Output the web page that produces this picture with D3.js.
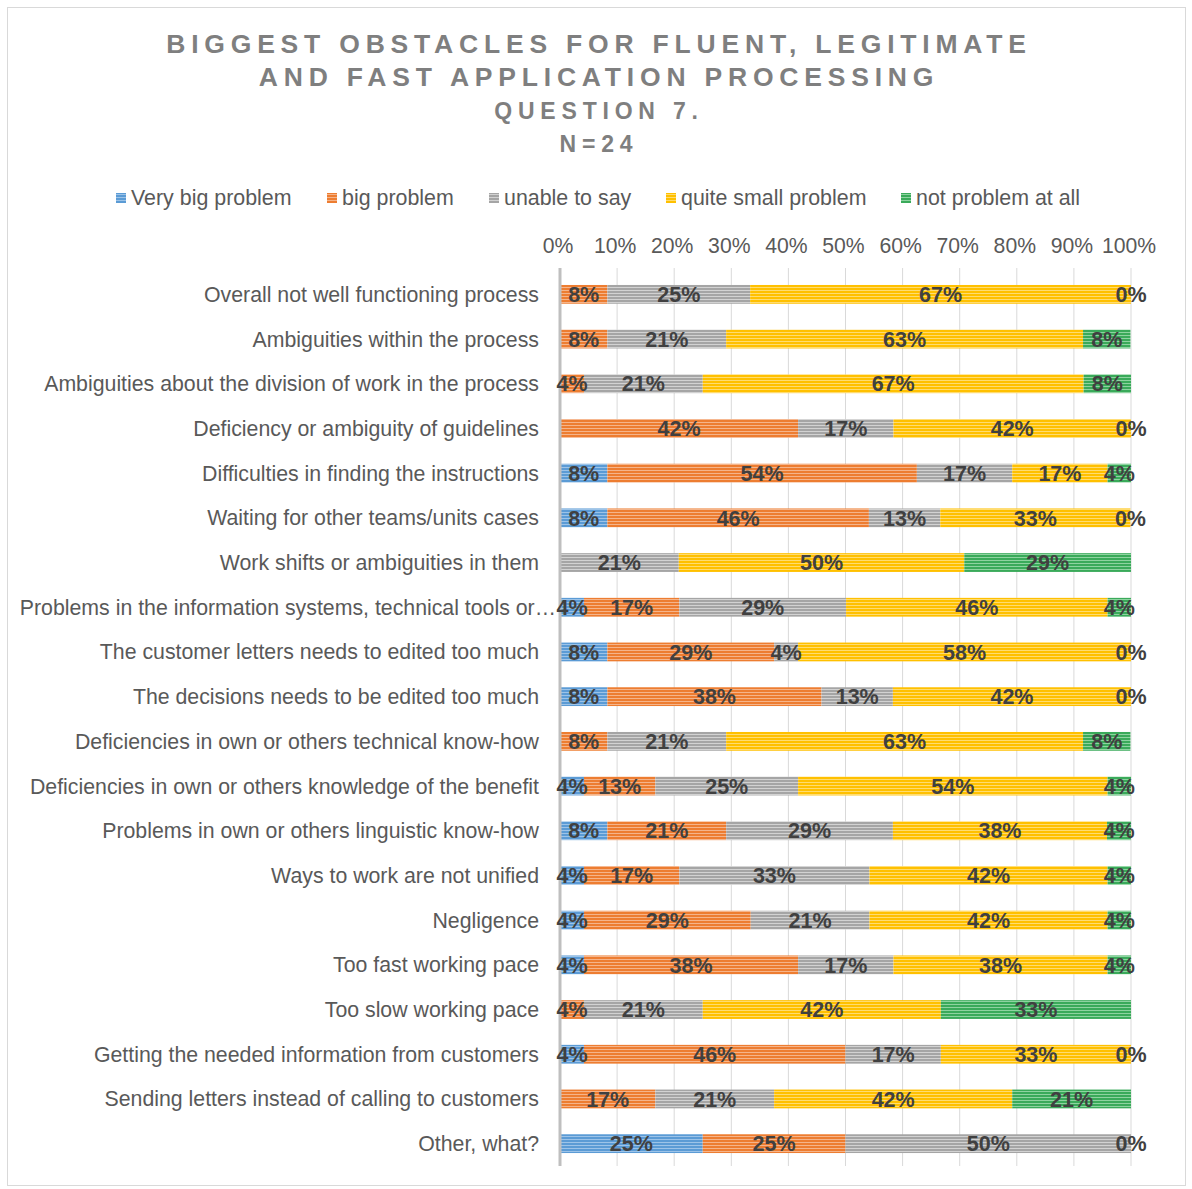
<!DOCTYPE html>
<html>
<head>
<meta charset="utf-8">
<script src="https://cdn.jsdelivr.net/npm/d3@7"></script>
<style>
  html, body { margin: 0; padding: 0; background: #fff; }
  text { font-family: "Liberation Sans", Arial, sans-serif; }
</style>
</head>
<body>
<svg id="chart" width="1192" height="1189"></svg>
<script>
// ---------- data ----------
const titleLines = ["BIGGEST OBSTACLES FOR FLUENT, LEGITIMATE", "AND FAST APPLICATION PROCESSING", "QUESTION 7.", "N=24"];
const categories = [
  "Overall not well functioning process",
  "Ambiguities within the process",
  "Ambiguities about the division of work in the process",
  "Deficiency or ambiguity of guidelines",
  "Difficulties in finding the instructions",
  "Waiting for other teams/units cases",
  "Work shifts or ambiguities in them",
  "Problems in the information systems, technical tools or…",
  "The customer letters needs to edited too much",
  "The decisions needs to be edited too much",
  "Deficiencies in own or others technical know-how",
  "Deficiencies in own or others knowledge of the benefit",
  "Problems in own or others linguistic know-how",
  "Ways to work are not unified",
  "Negligence",
  "Too fast working pace",
  "Too slow working pace",
  "Getting the needed information from customers",
  "Sending letters instead of calling to customers",
  "Other, what?"
];
const seriesNames = ["Very big problem", "big problem", "unable to say", "quite small problem", "not problem at all"];
const veryBig    = [0, 0, 0, 0, 8.3, 8.3, 0, 4.2, 8.3, 8.3, 0, 4.2, 8.3, 4.2, 4.2, 4.2, 0, 4.2, 0, 25];
const big        = [8.3, 8.3, 4.2, 41.7, 54.2, 45.8, 0, 16.7, 29.2, 37.5, 8.3, 12.5, 20.8, 16.7, 29.2, 37.5, 4.2, 45.8, 16.7, 25];
const unable     = [25, 20.8, 20.8, 16.7, 16.7, 12.5, 20.8, 29.2, 4.2, 12.5, 20.8, 25, 29.2, 33.3, 20.8, 16.7, 20.8, 16.7, 20.8, 50];
const quiteSmall = [66.7, 62.5, 66.7, 41.7, 16.7, 33.3, 50, 45.8, 58.3, 41.7, 62.5, 54.2, 37.5, 41.7, 41.7, 37.5, 41.7, 33.3, 41.7, 0];
const notAtAll   = [0, 8.3, 8.3, 0, 4.2, 0, 29.2, 4.2, 0, 0, 8.3, 4.2, 4.2, 4.2, 4.2, 4.2, 33.3, 0, 20.8, 0];
const tickValues = [0, 10, 20, 30, 40, 50, 60, 70, 80, 90, 100];

// ---------- styles ----------
const colors = ["#5B9BD5", "#ED7D31", "#A5A5A5", "#FFC000", "#3AAA5A"];
const stripeColors = ["#9cc3e8", "#f5b48a", "#d2d2d2", "#ffdc70", "#8ed3a0"];

const seriesValues = [veryBig, big, unable, quiteSmall, notAtAll];
const rows = categories.map((c, i) => {
  const o = { cat: c };
  seriesNames.forEach((s, k) => o[s] = seriesValues[k][i]);
  return o;
});

const svg = d3.select("#chart");
const defs = svg.append("defs");
seriesNames.forEach((s, k) => {
  const p = defs.append("pattern").attr("id", "pat" + k)
    .attr("patternUnits", "userSpaceOnUse").attr("width", 6).attr("height", 3);
  p.append("rect").attr("width", 6).attr("height", 3).attr("fill", colors[k]);
  p.append("rect").attr("y", 2).attr("width", 6).attr("height", 1).attr("fill", stripeColors[k]);
});

// chart border
svg.append("rect").attr("x", 7.5).attr("y", 7.5).attr("width", 1178).attr("height", 1178)
  .attr("fill", "none").attr("stroke", "#d9d9d9").attr("stroke-width", 1);

// title
const tFont = [26.5, 26.5, 23, 23];
const tY = [53, 86, 119, 152];
titleLines.forEach((t, i) => {
  svg.append("text").attr("x", 596 + 3).attr("y", tY[i])
    .attr("text-anchor", "middle")
    .attr("font-size", tFont[i]).attr("font-weight", "bold")
    .attr("letter-spacing", 5.8).attr("fill", "#7f7f7f").text(t);
});

// legend
const legendX = [116, 327, 489, 666, 901];
seriesNames.forEach((s, k) => {
  svg.append("rect").attr("x", legendX[k]).attr("y", 193).attr("width", 10).attr("height", 10)
    .attr("fill", "url(#pat" + k + ")");
  svg.append("text").attr("x", legendX[k] + 15).attr("y", 198).attr("dy", "0.35em")
    .attr("font-size", 21.4).attr("fill", "#595959").text(s);
});

// scales
const x = d3.scaleLinear().domain([0, 100]).range([560, 1131]).clamp(true);
const y = d3.scaleBand().domain(categories).range([272, 1166]).paddingInner(0.58).paddingOuter(0.29);

// gridlines
svg.append("g").selectAll("line").data(tickValues).join("line")
  .attr("x1", d => x(d)).attr("x2", d => x(d))
  .attr("y1", 268).attr("y2", 1166)
  .attr("stroke", "#d9d9d9").attr("stroke-width", 1);

// top axis tick labels
svg.append("g").selectAll("text").data(tickValues).join("text")
  .attr("x", d => x(d) - 2).attr("y", 246).attr("dy", "0.35em")
  .attr("text-anchor", "middle").attr("font-size", 21.2).attr("fill", "#595959")
  .text(d => d + "%");

// category labels
svg.append("g").selectAll("text").data(categories).join("text")
  .attr("x", d => d.endsWith("…") ? 556 : 539)
  .attr("y", d => y(d) + y.bandwidth() / 2).attr("dy", "0.35em")
  .attr("text-anchor", "end").attr("font-size", 21.3).attr("fill", "#595959")
  .text(d => d);

// bars
const stack = d3.stack().keys(seriesNames)(rows);
const gBars = svg.append("g");
stack.forEach((layer, k) => {
  gBars.append("g").selectAll("rect").data(layer).join("rect")
    .attr("x", d => x(d[0]))
    .attr("y", d => y(d.data.cat))
    .attr("width", d => Math.max(0, x(d[1]) - x(d[0])))
    .attr("height", y.bandwidth())
    .attr("fill", "url(#pat" + k + ")");
});

// axis line
svg.append("line").attr("x1", x(0)).attr("x2", x(0)).attr("y1", 268).attr("y2", 1166)
  .attr("stroke", "#bfbfbf").attr("stroke-width", 3);

// data labels
const gLab = svg.append("g");
stack.forEach((layer, k) => {
  const isLast = k === seriesNames.length - 1;
  gLab.append("g").selectAll("text")
    .data(layer.filter(d => (d[1] - d[0]) > 0 || isLast))
    .join("text")
    .attr("x", d => (x(d[0]) + x(d[1])) / 2)
    .attr("y", d => y(d.data.cat) + y.bandwidth() / 2).attr("dy", "0.36em")
    .attr("text-anchor", "middle").attr("font-size", 21.5).attr("font-weight", "bold")
    .attr("fill", "#404040")
    .text(d => Math.round(d.data[seriesNames[k]]) + "%");
});
</script>
</body>
</html>
